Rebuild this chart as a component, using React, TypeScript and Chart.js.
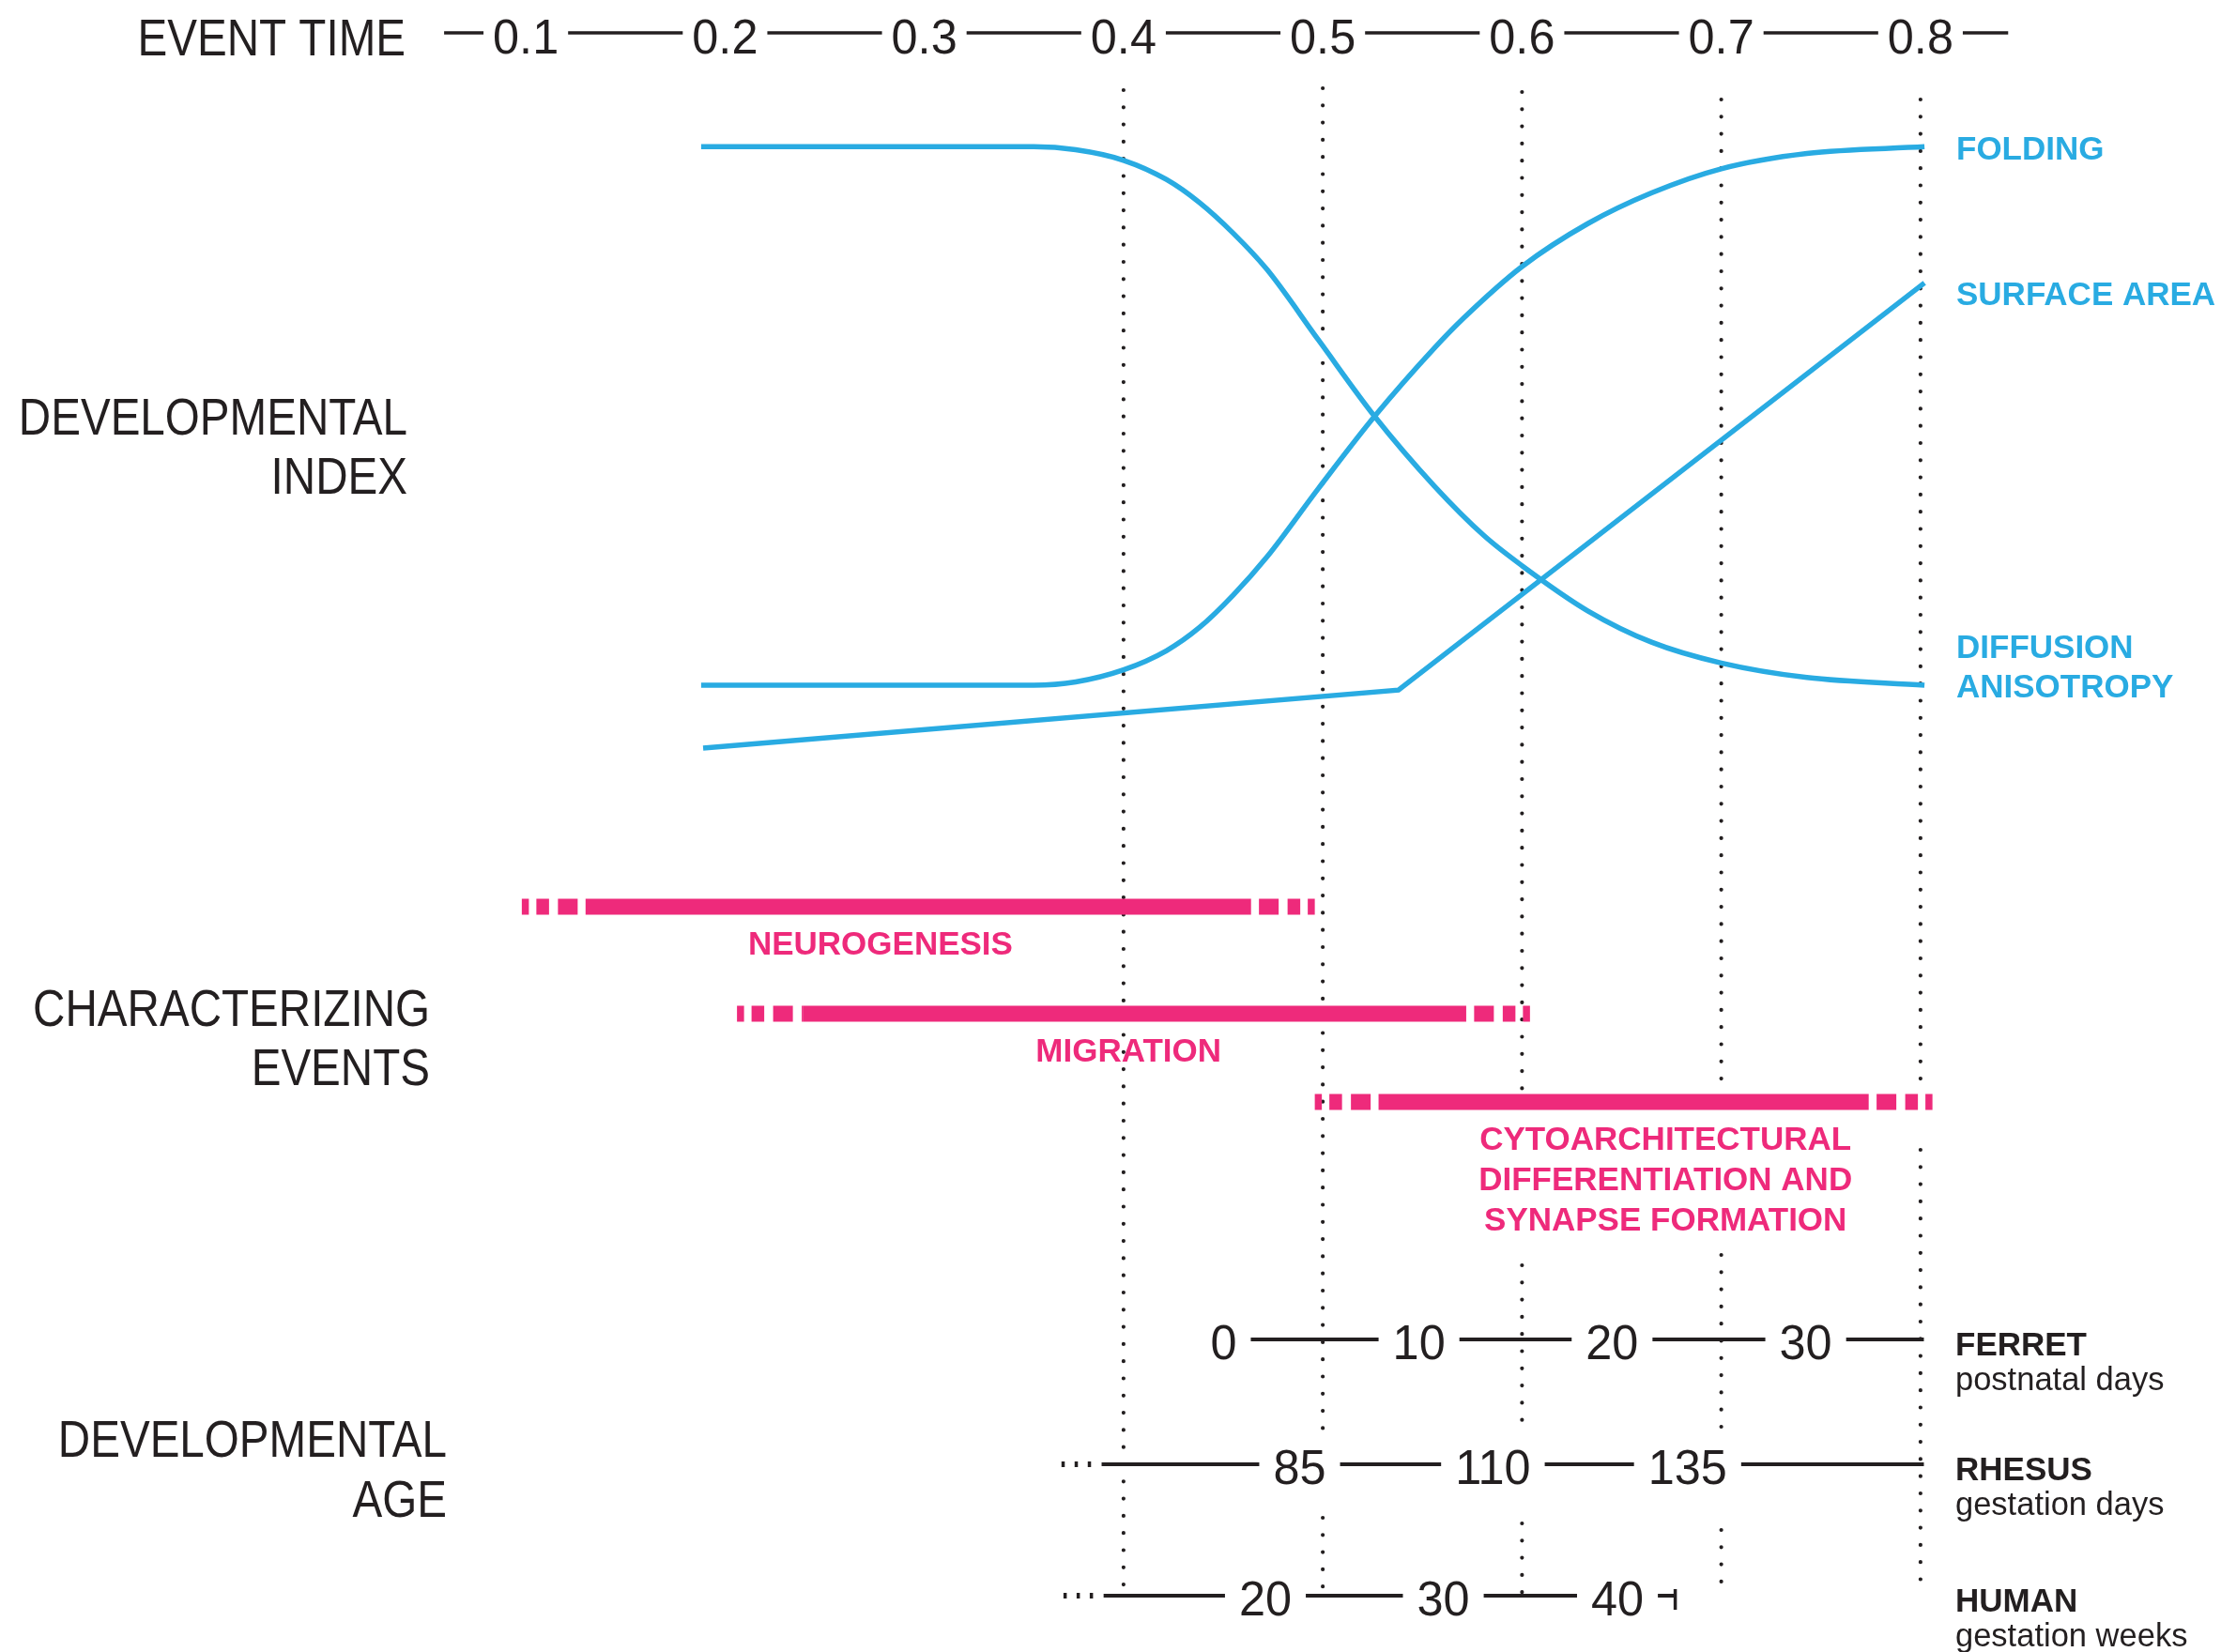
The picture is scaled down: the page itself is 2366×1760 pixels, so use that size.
import React, { useEffect, useRef } from "react";
import { Chart, registerables } from "chart.js";

Chart.register(...registerables);

// ---------------- data ----------------
const EVENT_TIME_TICKS = [0.1, 0.2, 0.3, 0.4, 0.5, 0.6, 0.7, 0.8];
const EVENT_TIME_AXIS_RANGE = [0.059, 0.844];
const GRID_TIMES = [0.4, 0.5, 0.6, 0.7, 0.8];

const FOLDING_TIME = [0.188, 0.355, 0.376, 0.4, 0.4215, 0.438, 0.455, 0.472, 0.498, 0.526, 0.556, 0.571, 0.6, 0.633, 0.665, 0.7, 0.743, 0.802];
const FOLDING = [0.1045, 0.1045, 0.11, 0.13, 0.1617, 0.2, 0.254, 0.3176, 0.4322, 0.5512, 0.6646, 0.7154, 0.8, 0.8713, 0.9223, 0.9624, 0.9878, 0.999];
const ANISOTROPY_TIME = [0.188, 0.355, 0.376, 0.4, 0.4215, 0.438, 0.455, 0.472, 0.498, 0.526, 0.556, 0.581, 0.6, 0.633, 0.665, 0.7, 0.743, 0.802];
const DIFFUSION_ANISOTROPY = [0.999, 0.999, 0.994, 0.9765, 0.9446, 0.9065, 0.8555, 0.7951, 0.6772, 0.5512, 0.4353, 0.3527, 0.303, 0.228, 0.176, 0.1414, 0.1173, 0.1045];
const SURFACE_TIME = [0.189, 0.538, 0.802];
const SURFACE_AREA = [0.0, 0.0964, 0.7728];

const EVENT_LABELS = [
  ["NEUROGENESIS"],
  ["MIGRATION"],
  ["CYTOARCHITECTURAL", "DIFFERENTIATION AND", "SYNAPSE FORMATION"],
];
const EVENT_FADE_IN = [0.098, 0.206, 0.496];
const EVENT_START = [0.13, 0.239, 0.528];
const EVENT_END = [0.464, 0.572, 0.774];
const EVENT_FADE_OUT = [0.496, 0.604, 0.806];
const EVENT_LABEL_AT = [0.278, 0.4025, 0.672];

const SPECIES = ["FERRET", "RHESUS", "HUMAN"];
const SPECIES_UNITS = ["postnatal days", "gestation days", "gestation weeks"];
const FERRET_DAYS = [0, 10, 20, 30];
const FERRET_AT = [0.4502, 0.5483, 0.6452, 0.7424];
const RHESUS_DAYS = [85, 110, 135];
const RHESUS_AT = [0.4884, 0.5854, 0.6831];
const HUMAN_WEEKS = [20, 30, 40];
const HUMAN_AT = [0.4712, 0.5605, 0.6479];
const AGE_AXIS_RANGE = [
  [0.4502, 0.8017],
  [0.389, 0.8017],
  [0.39, 0.6769],
];

const HEADINGS = [["EVENT TIME"], ["DEVELOPMENTAL", "INDEX"], ["CHARACTERIZING", "EVENTS"], ["DEVELOPMENTAL", "AGE"]];

// ---------------- layout / style ----------------
const W = 2366;
const H = 1760;
const PAD_LEFT = 454;
const PAD_RIGHT = 214;
const X_MIN = 0.05;
const X_MAX = 0.85;
const IDX_MAX = 1.24279;
const IDX_MIN = -1.50164;
const AXIS_ROW = 35;
const BAR_ROWS = [966, 1080, 1174];
const AGE_ROWS = [1427, 1560, 1700];
const DOT_SEGMENTS = [
  [[96, 1698]],
  [[94, 1525], [1617, 1693]],
  [[98, 1175], [1348, 1515], [1623, 1700]],
  [[106, 1160], [1337, 1522], [1630, 1688]],
  [[106, 1160], [1225, 1688]],
];
const HEADING_RIGHT = [432, 434, 458, 476];
const HEADING_BASELINE = [[59], [463, 526], [1093, 1156], [1552, 1616]];
const RIGHT_LABEL_X = 2084;

const FONT = '"Liberation Sans", Arial, Helvetica, sans-serif';
const INK = "#231F20";
const BLUE = "#29ABE2";
const PINK = "#EE2A7B";
const HEAD_SIZE = 55;
const HEAD_SX = 0.865;
const DIGIT_SIZE = 52;
const DIGIT_SX = 0.97;
const FADE_DASH = [7.5, 8, 13.5, 9.5, 21, 9.5];

function drawText(ctx: CanvasRenderingContext2D, s: string, x: number, y: number, size: number, weight: string, color: string, align: CanvasTextAlign, sx = 1) {
  ctx.save();
  ctx.font = `${weight} ${size}px ${FONT}`;
  ctx.fillStyle = color;
  ctx.textBaseline = "alphabetic";
  ctx.textAlign = align;
  ctx.translate(x, y);
  ctx.scale(sx, 1);
  ctx.fillText(s, 0, 0);
  ctx.restore();
}

function measure(ctx: CanvasRenderingContext2D, s: string, size: number, weight: string, sx = 1) {
  ctx.save();
  ctx.font = `${weight} ${size}px ${FONT}`;
  const w = ctx.measureText(s).width * sx;
  ctx.restore();
  return w;
}

function hline(ctx: CanvasRenderingContext2D, x1: number, x2: number, y: number, w: number) {
  ctx.save();
  ctx.strokeStyle = INK;
  ctx.lineWidth = w;
  ctx.lineCap = "butt";
  ctx.beginPath();
  ctx.moveTo(x1, y);
  ctx.lineTo(x2, y);
  ctx.stroke();
  ctx.restore();
}

function labelledAxis(ctx: CanvasRenderingContext2D, labels: string[], xs: number[], x0: number, x1: number, lineY: number, textY: number, pad: number, lw: number) {
  let cur = x0;
  xs.forEach((x, i) => {
    const w = measure(ctx, labels[i], DIGIT_SIZE, "normal", DIGIT_SX);
    const l = x - w / 2;
    const r = x + w / 2;
    if (l - pad > cur) hline(ctx, cur, l - pad, lineY, lw);
    cur = Math.max(cur, r + pad);
    drawText(ctx, labels[i], x, textY, DIGIT_SIZE, "normal", INK, "center", DIGIT_SX);
  });
  if (x1 > cur) hline(ctx, cur, x1, lineY, lw);
  return cur;
}

const overlayPlugin = {
  id: "overlay",
  afterDraw(chart: any) {
    const ctx: CanvasRenderingContext2D = chart.ctx;
    const px = (v: number) => chart.scales.x.getPixelForValue(v);
    const pi = (v: number) => chart.scales.yIndex.getPixelForValue(v);
    const pr = (v: number) => chart.scales.yRow.getPixelForValue(v);

    // headings
    HEADINGS.forEach((lines, i) => {
      lines.forEach((s, k) => drawText(ctx, s, HEADING_RIGHT[i], HEADING_BASELINE[i][k], HEAD_SIZE, "normal", INK, "right", HEAD_SX));
    });

    // event time axis
    const axY = pr(AXIS_ROW);
    labelledAxis(
      ctx,
      EVENT_TIME_TICKS.map((v) => v.toFixed(1)),
      EVENT_TIME_TICKS.map(px),
      px(EVENT_TIME_AXIS_RANGE[0]),
      px(EVENT_TIME_AXIS_RANGE[1]),
      axY,
      axY + 22,
      10,
      3.5
    );

    // curve labels
    const capHalf = 12.5;
    const lastF = FOLDING[FOLDING.length - 1];
    const lastS = SURFACE_AREA[SURFACE_AREA.length - 1];
    const lastD = DIFFUSION_ANISOTROPY[DIFFUSION_ANISOTROPY.length - 1];
    drawText(ctx, "FOLDING", RIGHT_LABEL_X, pi(lastF) + 1 + capHalf, 35, "bold", BLUE, "left");
    drawText(ctx, "SURFACE AREA", RIGHT_LABEL_X, pi(lastS) + 11 + capHalf, 35, "bold", BLUE, "left");
    drawText(ctx, "DIFFUSION", RIGHT_LABEL_X, pi(lastD) - 41 + capHalf, 35, "bold", BLUE, "left");
    drawText(ctx, "ANISOTROPY", RIGHT_LABEL_X, pi(lastD) + 1 + capHalf, 35, "bold", BLUE, "left");

    // event labels
    EVENT_LABELS.forEach((lines, i) => {
      const y = pr(BAR_ROWS[i]);
      lines.forEach((s, k) => drawText(ctx, s, px(EVENT_LABEL_AT[i]), y + 51 + k * 43, 35, "bold", PINK, "center"));
    });

    // developmental age axes
    const ages = [FERRET_DAYS, RHESUS_DAYS, HUMAN_WEEKS];
    const ats = [FERRET_AT, RHESUS_AT, HUMAN_AT];
    ages.forEach((vals, i) => {
      const y = pr(AGE_ROWS[i]);
      const x0 = px(AGE_AXIS_RANGE[i][0]);
      const x1 = px(AGE_AXIS_RANGE[i][1]);
      labelledAxis(ctx, vals.map(String), ats[i].map(px), x0, x1, y, y + 21, 15, 4);
      if (i > 0) {
        ctx.save();
        ctx.fillStyle = INK;
        [-41, -27, -13].forEach((dx) => ctx.fillRect(x0 + dx - 1.75, y - 3, 3.5, 6));
        ctx.restore();
      }
      if (i === 2) {
        ctx.save();
        ctx.strokeStyle = INK;
        ctx.lineWidth = 3.5;
        ctx.beginPath();
        ctx.moveTo(x1, y - 7);
        ctx.lineTo(x1, y + 15);
        ctx.stroke();
        ctx.restore();
      }
      drawText(ctx, SPECIES[i], 2083, y + 17, 35, "bold", INK, "left");
      drawText(ctx, SPECIES_UNITS[i], 2083, y + 54, 34.5, "normal", INK, "left");
    });
  },
};

export default function App() {
  const ref = useRef<HTMLCanvasElement | null>(null);

  useEffect(() => {
    const canvas = ref.current;
    if (!canvas) return;
    const datasets: any[] = [];

    const curve = (xs: number[], ys: number[], mono: boolean) => ({
      xAxisID: "x",
      yAxisID: "yIndex",
      data: xs.map((x, i) => ({ x, y: ys[i] })),
      borderColor: BLUE,
      borderWidth: 5.5,
      pointRadius: 0,
      fill: false,
      cubicInterpolationMode: mono ? "monotone" : "default",
      tension: 0,
      borderCapStyle: "butt",
      borderJoinStyle: "miter",
      order: 0,
    });
    datasets.push(curve(FOLDING_TIME, FOLDING, true));
    datasets.push(curve(ANISOTROPY_TIME, DIFFUSION_ANISOTROPY, true));
    datasets.push(curve(SURFACE_TIME, SURFACE_AREA, false));

    const bar = {
      xAxisID: "x",
      yAxisID: "yRow",
      borderColor: PINK,
      borderWidth: 17,
      pointRadius: 0,
      fill: false,
      borderCapStyle: "butt",
      order: 1,
    };
    EVENT_START.forEach((s, i) => {
      const y = BAR_ROWS[i];
      datasets.push({ ...bar, data: [{ x: EVENT_FADE_IN[i], y }, { x: s, y }], borderDash: FADE_DASH });
      datasets.push({ ...bar, data: [{ x: s, y }, { x: EVENT_END[i], y }] });
      datasets.push({ ...bar, data: [{ x: EVENT_FADE_OUT[i], y }, { x: EVENT_END[i], y }], borderDash: FADE_DASH });
    });

    GRID_TIMES.forEach((t, i) => {
      const data: any[] = [];
      DOT_SEGMENTS[i].forEach(([a, b], k) => {
        if (k) data.push({ x: t, y: null });
        data.push({ x: t, y: a }, { x: t, y: b });
      });
      datasets.push({
        xAxisID: "x",
        yAxisID: "yRow",
        data,
        borderColor: INK,
        borderWidth: 4.2,
        borderDash: [0, 18.3],
        borderCapStyle: "round",
        pointRadius: 0,
        fill: false,
        spanGaps: false,
        order: 2,
      });
    });

    const chart = new Chart(canvas, {
      type: "line",
      data: { datasets },
      options: {
        animation: false,
        responsive: false,
        devicePixelRatio: 1,
        events: [],
        layout: { padding: { left: PAD_LEFT, right: PAD_RIGHT, top: 0, bottom: 0 } },
        plugins: { legend: { display: false }, tooltip: { enabled: false } },
        scales: {
          x: { type: "linear", min: X_MIN, max: X_MAX, display: false },
          yIndex: { type: "linear", min: IDX_MIN, max: IDX_MAX, display: false },
          yRow: { type: "linear", min: 0, max: H, reverse: true, display: false },
        },
      },
      plugins: [overlayPlugin],
    } as any);

    return () => chart.destroy();
  }, []);

  return (
    <canvas
      ref={ref}
      width={W}
      height={H}
      style={{ position: "fixed", left: 0, top: 0, width: W, height: H, background: "#ffffff" }}
    />
  );
}
